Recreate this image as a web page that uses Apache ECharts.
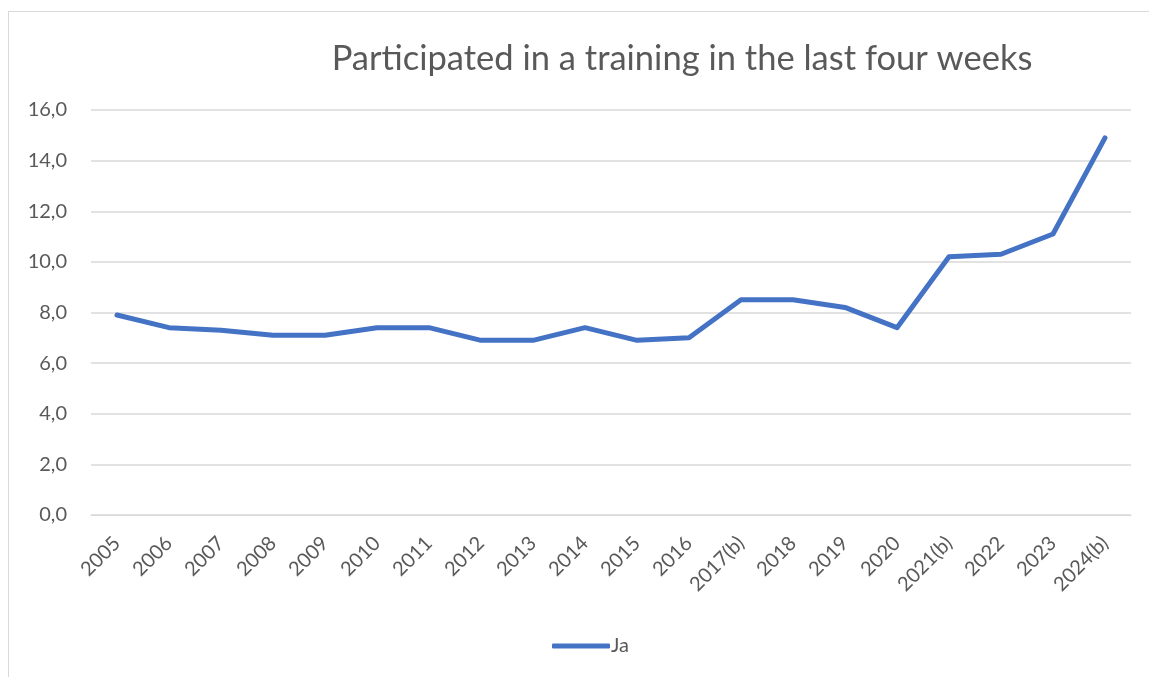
<!DOCTYPE html>
<html lang="en">
<head>
    <meta charset="UTF-8">
    <title>Participated in a training in the last four weeks</title>
    <style>
        body {
            margin: 0;
            padding: 0;
            background: #ffffff;
        }

        #frame {
            position: absolute;
            left: 8px;
            top: 11px;
            width: 1160px;
            height: 700px;
            border: 1px solid #d9d9d9;
        }

        #chart {
            position: absolute;
            left: 0;
            top: 0;
            width: 1149px;
            height: 677px;
        }
    </style>
    <script src="https://cdn.jsdelivr.net/npm/echarts@6/dist/echarts.min.js"></script>
</head>
<body>
    <div id="frame"></div>
    <div id="chart"></div>

    <script>
        const years = ['2005', '2006', '2007', '2008', '2009', '2010', '2011', '2012', '2013', '2014',
            '2015', '2016', '2017(b)', '2018', '2019', '2020', '2021(b)', '2022', '2023', '2024(b)'];
        const jaValues = [7.9, 7.4, 7.3, 7.1, 7.1, 7.4, 7.4, 6.9, 6.9, 7.4,
            6.9, 7.0, 8.5, 8.5, 8.2, 7.4, 10.2, 10.3, 11.1, 14.9];

        const textColor = '#595959';
        const font = 'Lato, sans-serif';

        var chart = echarts.init(document.getElementById('chart'));

        var option = {
            animation: false,
            title: {
                text: 'Participated in a training in the last four weeks',
                left: 677,
                top: 36,
                textAlign: 'center',
                textStyle: {
                    fontFamily: font,
                    fontSize: 34.5,
                    fontWeight: 'normal',
                    color: textColor
                }
            },
            legend: {
                data: ['Ja'],
                left: 547,
                top: 631,
                itemWidth: 58,
                itemHeight: 5,
                itemGap: 4,
                icon: 'roundRect',
                textStyle: {
                    fontFamily: font,
                    fontSize: 20,
                    color: textColor,
                    padding: [0, 0, 0, -4]
                }
            },
            grid: {
                left: 91,
                right: 18,
                top: 110,
                bottom: 162,
                containLabel: false
            },
            xAxis: {
                type: 'category',
                data: years,
                boundaryGap: true,
                axisLine: {
                    lineStyle: { color: '#d9d9d9', width: 1 }
                },
                axisTick: { show: false },
                axisLabel: {
                    rotate: 45,
                    interval: 0,
                    margin: 25,
                    fontFamily: font,
                    fontSize: 20,
                    color: textColor
                }
            },
            yAxis: {
                type: 'value',
                min: 0,
                max: 16,
                interval: 2,
                axisLine: { show: false },
                axisTick: { show: false },
                splitLine: {
                    lineStyle: { color: '#d9d9d9', width: 1.5 }
                },
                axisLabel: {
                    margin: 24,
                    fontFamily: font,
                    fontSize: 20,
                    color: textColor,
                    formatter: function (v) {
                        return v.toFixed(1).replace('.', ',');
                    }
                }
            },
            series: [
                {
                    name: 'Ja',
                    type: 'line',
                    data: jaValues,
                    symbol: 'none',
                    lineStyle: {
                        color: '#4472C4',
                        width: 5,
                        cap: 'round',
                        join: 'round'
                    },
                    itemStyle: { color: '#4472C4' }
                }
            ]
        };

        chart.setOption(option);
    </script>
</body>
</html>
